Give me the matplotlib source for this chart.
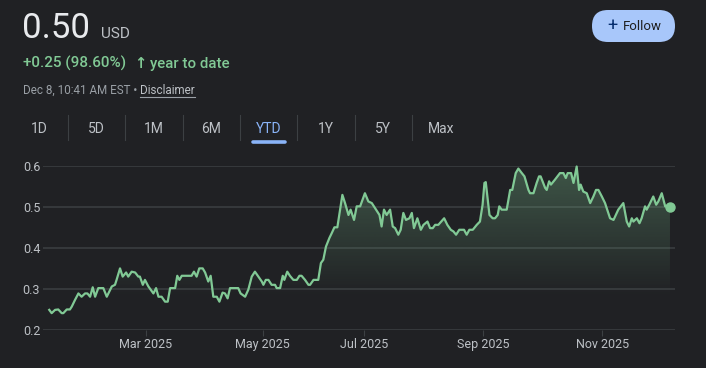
import numpy as np
import matplotlib
matplotlib.use("Agg")
import matplotlib.pyplot as plt
from matplotlib.patches import FancyBboxPatch, PathPatch

# price trace (x = trading session since Jan 2, y = price USD)
session = [0.1, 1.0, 2.3, 3.5, 4.8, 5.4, 6.7, 7.9, 8.6, 9.8, 11.1, 12.3, 13.6, 14.5, 15.5, 16.5,
           17.4, 18.6, 20.5, 21.8, 23.7, 24.9, 25.5, 26.8, 27.8, 29.1, 29.9, 31.2, 32.5, 33.7, 34.3,
           35.4, 36.2, 37.5, 39.4, 40.4, 41.3, 42.5, 43.8, 44.8, 45.7, 47.6, 48.4, 49.2, 50.1, 53.8,
           54.7, 55.7, 56.7, 58.0, 58.9, 60.1, 61.0, 62.0, 63.3, 64.3, 65.5, 66.4, 67.4, 68.3, 71.4,
           72.3, 74.0, 75.2, 76.5, 77.7, 79.0, 80.3, 80.9, 81.8, 82.8, 84.0, 85.3, 85.9, 87.2, 88.2,
           88.8, 89.9, 90.9, 92.2, 93.5, 94.5, 95.3, 96.6, 97.9, 98.5, 99.8, 101.6, 102.6, 103.5,
           104.5, 105.8, 106.7, 107.7, 108.8, 110.7, 111.7, 113.0, 113.8, 115.1, 116.1, 117.4,
           119.2, 120.5, 121.8, 123.4, 124.7, 125.5, 126.4, 127.4, 128.7, 129.7, 130.6, 131.8,
           132.7, 133.7, 134.7, 136.0, 136.9, 137.7, 139.0, 140.3, 141.3, 142.8, 143.8, 144.8,
           145.7, 146.9, 149.1, 150.3, 151.6, 152.6, 153.6, 154.8, 156.6, 157.6, 158.6, 159.9,
           161.4, 162.6, 163.6, 164.3, 164.8, 166.2, 167.4, 168.3, 169.3, 169.9, 170.8, 172.7,
           174.0, 174.8, 176.1, 177.1, 178.4, 179.4, 180.9, 181.5, 182.8, 184.0, 184.9, 185.5,
           187.2, 187.8, 188.7, 189.4, 190.9, 192.8, 194.1, 195.0, 195.7, 197.0, 197.9, 199.1,
           200.0, 200.6, 201.6, 202.9, 204.2, 205.4, 206.4, 207.3, 208.6, 209.8, 211.7, 213.0,
           214.8, 216.7, 218.0, 218.9, 219.9, 220.5, 221.8, 222.8, 223.6, 224.9, 225.5, 226.5,
           228.0, 229.1, 229.9, 231.2, 232.5, 234.3]
price = [0.249, 0.241, 0.249, 0.250, 0.241, 0.241, 0.250, 0.250, 0.257, 0.273, 0.289, 0.281, 0.289,
         0.289, 0.281, 0.304, 0.281, 0.302, 0.302, 0.281, 0.306, 0.310, 0.322, 0.350, 0.330, 0.340,
         0.330, 0.342, 0.340, 0.330, 0.330, 0.310, 0.322, 0.306, 0.289, 0.302, 0.281, 0.281, 0.269,
         0.269, 0.302, 0.302, 0.332, 0.322, 0.332, 0.332, 0.342, 0.330, 0.350, 0.350, 0.340, 0.318,
         0.332, 0.281, 0.281, 0.269, 0.291, 0.289, 0.277, 0.302, 0.302, 0.289, 0.281, 0.298, 0.330,
         0.342, 0.330, 0.318, 0.310, 0.322, 0.322, 0.310, 0.310, 0.302, 0.302, 0.332, 0.322, 0.342,
         0.332, 0.322, 0.322, 0.332, 0.332, 0.322, 0.310, 0.310, 0.322, 0.322, 0.363, 0.371, 0.403,
         0.424, 0.436, 0.450, 0.450, 0.529, 0.509, 0.480, 0.493, 0.468, 0.501, 0.501,
         0.533, 0.513, 0.509, 0.493, 0.480, 0.452, 0.493, 0.480, 0.493, 0.452, 0.448, 0.432, 0.444,
         0.485, 0.468, 0.472, 0.485, 0.448, 0.472, 0.444, 0.456, 0.464, 0.448, 0.448, 0.456, 0.456,
         0.472, 0.456, 0.444, 0.440, 0.432, 0.444, 0.444, 0.432, 0.444, 0.444, 0.456, 0.464, 0.505,
         0.558, 0.560, 0.480, 0.472, 0.472, 0.480, 0.501, 0.493, 0.493, 0.541, 0.541, 0.582, 0.593,
         0.582, 0.574, 0.541, 0.533, 0.533, 0.558, 0.574, 0.574, 0.546, 0.541, 0.562, 0.554, 0.566,
         0.582, 0.582, 0.570, 0.582, 0.582, 0.558, 0.598, 0.541, 0.554, 0.537, 0.533, 0.509, 0.525,
         0.541, 0.541, 0.525, 0.509, 0.472, 0.468, 0.493, 0.509, 0.464, 0.452, 0.472, 0.464, 0.472,
         0.460, 0.472, 0.501, 0.493, 0.505, 0.525, 0.505, 0.513, 0.533, 0.501, 0.499]

tick_pos = [36.5, 80.6, 119.0, 163.7, 208.7]
tick_labels = ["Mar 2025", "May 2025", "Jul 2025", "Sep 2025", "Nov 2025"]
y_ticks = [0.2, 0.3, 0.4, 0.5, 0.6]
ranges = ["1D", "5D", "1M", "6M", "YTD", "1Y", "5Y", "Max"]
active_range = "YTD"

BG = "#202124"
GREEN = "#81c995"
GRID = "#3c4043"
W, H = 706, 368

plt.rcParams["font.family"] = ["Roboto", "DejaVu Sans"]

fig = plt.figure(figsize=(W / 100, H / 100), dpi=100, facecolor=BG)

# overlay in pixel units for the page furniture
ui = fig.add_axes([0, 0, 1, 1], zorder=5)
ui.set_xlim(0, W)
ui.set_ylim(H, 0)
ui.axis("off")
ui.patch.set_alpha(0)

# header
ui.text(22, 38, "0.50", color="#e8eaed", fontsize=25, va="baseline")
ui.text(101, 38, "USD", color="#bdc1c6", fontsize=11, va="baseline")
ui.text(23, 68, "+0.25 (98.60%)", color=GREEN, fontsize=11, fontweight="medium", va="baseline")
ui.text(140.5, 68, "\u2191", color=GREEN, fontsize=10.5, fontweight="bold", va="baseline",
        ha="center", family="DejaVu Sans")
ui.text(149.5, 68, "year to date", color=GREEN, fontsize=10.8, fontweight="medium",
        va="baseline")
t1 = ui.text(23, 94, "Dec 8, 10:41 AM EST \u2022 ", color="#9aa0a6", fontsize=8.4, va="baseline")
fig.canvas.draw()
r = fig.canvas.get_renderer()
bb = t1.get_window_extent(r)
t2 = ui.text(bb.x1, 94, "Disclaimer", color="#bdc1c6", fontsize=8.4, va="baseline")
bb2 = t2.get_window_extent(r)
ui.plot([bb2.x0, bb2.x1], [96.5, 96.5], color="#9aa0a6", lw=0.8)

# follow button
ui.add_patch(FancyBboxPatch((592, 10), 83, 32, boxstyle="round,pad=0,rounding_size=16",
                            facecolor="#a8c7fa", edgecolor="none"))
ui.text(612, 26, "+", color="#062e6f", fontsize=13, ha="center", va="center")
ui.text(642, 26, "Follow", color="#1f1f1f", fontsize=9.5, ha="center", va="center")

# range selector
for i, lab in enumerate(ranges):
    cx = 39 + i * 57.4
    col = "#8ab4f8" if lab == active_range else "#bdc1c6"
    ui.text(cx, 133, lab, color=col, fontsize=10, ha="center", va="baseline")
    if i < len(ranges) - 1:
        ui.plot([cx + 28.7] * 2, [115, 140], color=GRID, lw=0.8)
    if lab == active_range:
        ui.plot([cx - 16, cx + 16], [141.5, 141.5], color="#8ab4f8", lw=2.6,
                solid_capstyle="round")

# chart
ax = fig.add_axes([43 / W, 1 - 330 / H, 632 / W, 164.3 / H])
ax.set_facecolor(BG)
for s in ax.spines.values():
    s.set_visible(False)
ax.set_yticks(y_ticks)
ax.set_yticklabels([f"{v:.1f}" for v in y_ticks])
ax.set_xticks(tick_pos)
ax.set_xticklabels(tick_labels)
ax.tick_params(axis="y", length=0, pad=2, labelsize=9, labelcolor="#bdc1c6")
ax.tick_params(axis="x", length=4.5, width=0.8, color=GRID, pad=1.5, labelsize=9,
               labelcolor="#bdc1c6")
ax.grid(axis="y", color=GRID, lw=1.1)
ax.set_axisbelow(True)

# gradient fill under the line
fill = ax.fill_between(session, price, 0.28, facecolor="none", edgecolor="none")
clip = PathPatch(fill.get_paths()[0], transform=ax.transData, facecolor="none", edgecolor="none")
ax.add_patch(clip)
grad = np.zeros((256, 1, 4))
grad[..., 0:3] = matplotlib.colors.to_rgb(GREEN)
grad[:, 0, 3] = np.linspace(0.32, 0.0, 256)
img = ax.imshow(grad, extent=[session[0], session[-1], 0.28, 0.6], aspect="auto",
                origin="upper", zorder=1)
img.set_clip_path(clip)

ax.plot(session, price, color=GREEN, lw=1.6, zorder=3, solid_joinstyle="round", clip_on=False)
ax.plot(session[-1], price[-1], "o", color=GREEN, ms=6.5, zorder=4, clip_on=False)
ax.set_xlim(-2.26, 236.2)
ax.set_ylim(0.2, 0.6)

fig.savefig("out.png", dpi=100, facecolor=BG)
